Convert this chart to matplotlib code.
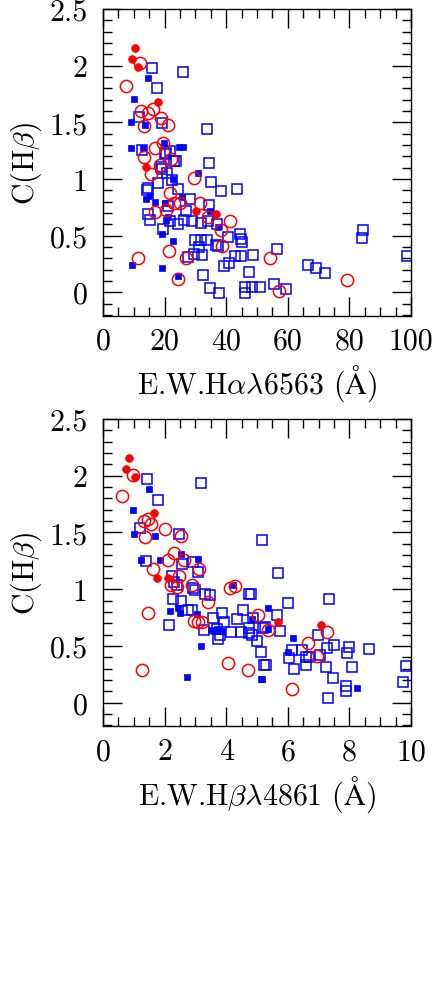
import numpy as np
import matplotlib.pyplot as plt
from matplotlib.ticker import MultipleLocator, FormatStrFormatter

plt.rcParams['font.family'] = 'serif'
plt.rcParams['font.serif'] = ['cmr10', 'DejaVu Serif']
plt.rcParams['mathtext.fontset'] = 'cm'
plt.rcParams['axes.unicode_minus'] = False

# ---- top panel: C(Hb) vs EW(Ha) ----
ha_redfill_x = [10.4, 9.3, 11.5, 18.0, 13.9, 30.2, 36.6]
ha_redfill_y = [2.16, 2.06, 1.99, 1.68, 1.11, 0.72, 0.69]

ha_redopen_x = [12.0, 7.4, 12.2, 14.5, 16.3, 18.8, 21.2, 13.4, 19.4, 16.9, 13.4, 22.1, 18.5,
                15.5, 29.6, 21.8, 23.1, 25.0, 16.8, 20.5, 31.5, 34.2, 41.2, 38.3, 38.5, 11.5,
                21.4, 26.8, 24.4, 54.2, 57.2, 79.1]
ha_redopen_y = [2.02, 1.82, 1.60, 1.58, 1.62, 1.54, 1.48, 1.47, 1.32, 1.27, 1.19, 1.18, 1.12,
                1.04, 1.01, 0.88, 0.79, 0.79, 0.71, 0.73, 0.79, 0.66, 0.63, 0.55, 0.41, 0.30,
                0.36, 0.30, 0.12, 0.30, 0.01, 0.11]

ha_bluefill_x = [14.5, 10.2, 9.1, 13.6, 9.1, 12.9, 19.9, 24.7, 26.1, 30.9, 22.8, 13.9, 15.3,
                 16.9, 20.1, 25.8, 20.3, 21.2, 34.7, 37.4, 19.0, 22.8, 9.3, 19.0, 24.4]
ha_bluefill_y = [1.89, 1.71, 1.50, 1.48, 1.27, 1.27, 1.32, 1.28, 1.28, 1.05, 1.00, 0.82, 0.85,
                 0.80, 0.79, 0.84, 0.64, 0.66, 0.72, 0.58, 0.51, 0.45, 0.24, 0.21, 0.14]

ha_blueopen_x = [16.0, 26.1, 17.4, 11.8, 19.1, 33.9, 12.6, 21.8, 20.4, 23.7, 34.4, 18.8, 20.1,
                 23.1, 19.0, 20.7, 18.0, 22.3, 35.1, 38.2, 43.4, 14.5, 14.2, 24.2, 28.2, 21.0,
                 34.4, 26.8, 14.5, 15.3, 21.8, 24.5, 26.4, 29.0, 31.8, 34.2, 36.9, 19.6, 29.9,
                 31.8, 33.7, 31.2, 32.2, 29.6, 27.5, 36.6, 37.2, 40.7, 44.5, 44.9, 45.0, 42.9,
                 44.7, 48.8, 40.9, 39.4, 47.4, 32.6, 34.7, 37.8, 46.1, 46.1, 48.5, 51.0, 56.4,
                 55.5, 59.4, 66.7, 69.3, 72.1, 84.3, 84.2, 98.8]
ha_blueopen_y = [1.98, 1.94, 1.80, 1.55, 1.49, 1.44, 1.26, 1.25, 1.23, 1.16, 1.14, 1.11, 1.22,
                 1.16, 1.09, 1.05, 0.96, 0.99, 0.97, 0.89, 0.91, 0.92, 0.90, 0.91, 0.82, 0.76,
                 0.77, 0.72, 0.69, 0.64, 0.63, 0.60, 0.64, 0.63, 0.61, 0.63, 0.60, 0.56, 0.46,
                 0.46, 0.46, 0.40, 0.33, 0.34, 0.31, 0.42, 0.41, 0.49, 0.51, 0.47, 0.44, 0.32,
                 0.32, 0.33, 0.26, 0.23, 0.18, 0.15, 0.04, -0.01, 0.05, -0.01, 0.05, 0.05, 0.38,
                 0.07, 0.03, 0.24, 0.21, 0.17, 0.55, 0.48, 0.32]

# ---- bottom panel: C(Hb) vs EW(Hb) ----
hb_redfill_x = [0.85, 0.76, 1.05, 1.67, 1.74, 2.10, 5.69, 7.08]
hb_redfill_y = [2.16, 2.06, 1.99, 1.67, 1.10, 1.10, 0.71, 0.68]

hb_redopen_x = [0.98, 0.63, 1.34, 1.45, 1.56, 2.01, 1.36, 2.53, 2.31, 2.10, 2.64, 1.61, 3.12,
                2.48, 2.21, 2.39, 2.88, 4.12, 4.29, 3.40, 1.47, 2.96, 3.09, 3.22, 5.04, 5.37,
                6.67, 7.28, 6.94, 1.26, 4.05, 4.72, 6.13]
hb_redopen_y = [2.01, 1.82, 1.60, 1.62, 1.57, 1.53, 1.46, 1.47, 1.32, 1.26, 1.26, 1.18, 1.18,
                1.12, 1.04, 1.02, 1.04, 1.01, 1.03, 0.89, 0.79, 0.72, 0.71, 0.71, 0.77, 0.64,
                0.53, 0.62, 0.41, 0.29, 0.35, 0.29, 0.12]

hb_bluefill_x = [1.48, 0.97, 1.02, 1.70, 1.23, 1.85, 2.53, 3.09, 2.18, 2.45, 2.50, 3.04, 4.23,
                 3.51, 3.69, 3.85, 3.18, 2.72, 5.13, 4.85, 5.37, 5.37, 6.18, 6.02, 5.15, 8.26]
hb_bluefill_y = [1.88, 1.70, 1.49, 1.47, 1.26, 1.26, 1.31, 1.27, 0.81, 0.83, 0.79, 0.78, 1.04,
                 0.64, 0.65, 0.63, 0.50, 0.23, 0.21, 0.74, 0.83, 0.65, 0.57, 0.45, 0.21, 0.13]

hb_blueopen_x = [1.42, 3.18, 1.80, 1.20, 2.47, 5.15, 1.39, 2.57, 2.93, 3.09, 2.25, 2.31, 2.39,
                 2.28, 2.53, 2.93, 2.99, 3.31, 3.47, 4.74, 2.75, 2.88, 4.56, 3.58, 3.87, 3.94,
                 4.34, 4.88, 2.14, 3.29, 3.69, 3.80, 3.74, 4.16, 4.48, 4.74, 4.74, 4.99, 5.13,
                 5.23, 5.20, 5.69, 4.79, 6.02, 7.35, 5.64, 5.26, 5.75, 6.99, 4.83, 6.13, 6.05,
                 6.45, 6.59, 6.70, 6.59, 6.21, 5.29, 7.05, 7.26, 7.50, 7.24, 7.46, 7.32, 8.00,
                 7.91, 8.07, 8.65, 7.88, 7.88, 9.84, 9.73]
hb_blueopen_y = [1.97, 1.94, 1.79, 1.54, 1.49, 1.43, 1.25, 1.22, 1.24, 1.15, 1.12, 1.06, 1.04,
                 0.91, 0.90, 1.01, 0.99, 0.96, 0.95, 0.96, 0.82, 0.82, 0.82, 0.75, 0.79, 0.71,
                 0.74, 0.75, 0.68, 0.64, 0.65, 0.60, 0.56, 0.62, 0.62, 0.66, 0.61, 0.54, 0.45,
                 0.33, 0.66, 1.14, 0.96, 0.88, 0.91, 0.77, 0.67, 0.63, 0.60, 0.60, 0.46, 0.39,
                 0.46, 0.40, 0.40, 0.33, 0.30, 0.33, 0.42, 0.48, 0.51, 0.31, 0.22, 0.04, 0.49,
                 0.44, 0.31, 0.47, 0.15, 0.10, 0.32, 0.18]

RED = '#ff0000'
BLUE = '#0000ff'
FS = 21.5


def panel(ax, bo_x, bo_y, bf_x, bf_y, ro_x, ro_y, rf_x, rf_y):
    ax.plot(bo_x, bo_y, 's', ms=6.7, mfc='none', mec=BLUE, mew=1.1, ls='none')
    ax.plot(bf_x, bf_y, 's', ms=3.8, mfc=BLUE, mec=BLUE, mew=0.5, ls='none')
    ax.plot(ro_x, ro_y, 'o', ms=8.8, mfc='none', mec=RED, mew=1.1, ls='none')
    ax.plot(rf_x, rf_y, 'o', ms=5.6, mfc=RED, mec=RED, mew=0.5, ls='none')
    ax.set_ylim(-0.21, 2.5)
    ax.yaxis.set_major_locator(MultipleLocator(0.5))
    ax.yaxis.set_minor_locator(MultipleLocator(0.1))
    ax.yaxis.set_major_formatter(FormatStrFormatter('%g'))
    ax.tick_params(which='both', direction='in', top=True, right=True,
                   labelsize=FS, width=1.0)
    ax.tick_params(axis='y', pad=11)
    ax.tick_params(axis='x', pad=8)
    ax.tick_params(which='major', length=13.5)
    ax.tick_params(which='minor', length=6.7)
    for s in ax.spines.values():
        s.set_linewidth(1.0)
    ax.set_ylabel(r'C(H$\beta$)', fontsize=FS, labelpad=4)


fig = plt.figure(figsize=(4.36, 10.03), dpi=100)

ax1 = fig.add_axes([0.2362, 0.6839, 0.7064, 0.3061])
panel(ax1, ha_blueopen_x, ha_blueopen_y, ha_bluefill_x, ha_bluefill_y,
      ha_redopen_x, ha_redopen_y, ha_redfill_x, ha_redfill_y)
ax1.set_xlim(0, 100)
ax1.xaxis.set_major_locator(MultipleLocator(20))
ax1.xaxis.set_minor_locator(MultipleLocator(5))
ax1.set_xlabel(r'E.W.H$\alpha\lambda$6563 ($\mathrm{\AA}$)', fontsize=FS, labelpad=6)

ax2 = fig.add_axes([0.2362, 0.2747, 0.7064, 0.3066])
panel(ax2, hb_blueopen_x, hb_blueopen_y, hb_bluefill_x, hb_bluefill_y,
      hb_redopen_x, hb_redopen_y, hb_redfill_x, hb_redfill_y)
ax2.set_xlim(0, 10)
ax2.xaxis.set_major_locator(MultipleLocator(2))
ax2.xaxis.set_minor_locator(MultipleLocator(0.5))
ax2.set_xlabel(r'E.W.H$\beta\lambda$4861 ($\mathrm{\AA}$)', fontsize=FS, labelpad=6)

fig.savefig('out.png', dpi=100)
